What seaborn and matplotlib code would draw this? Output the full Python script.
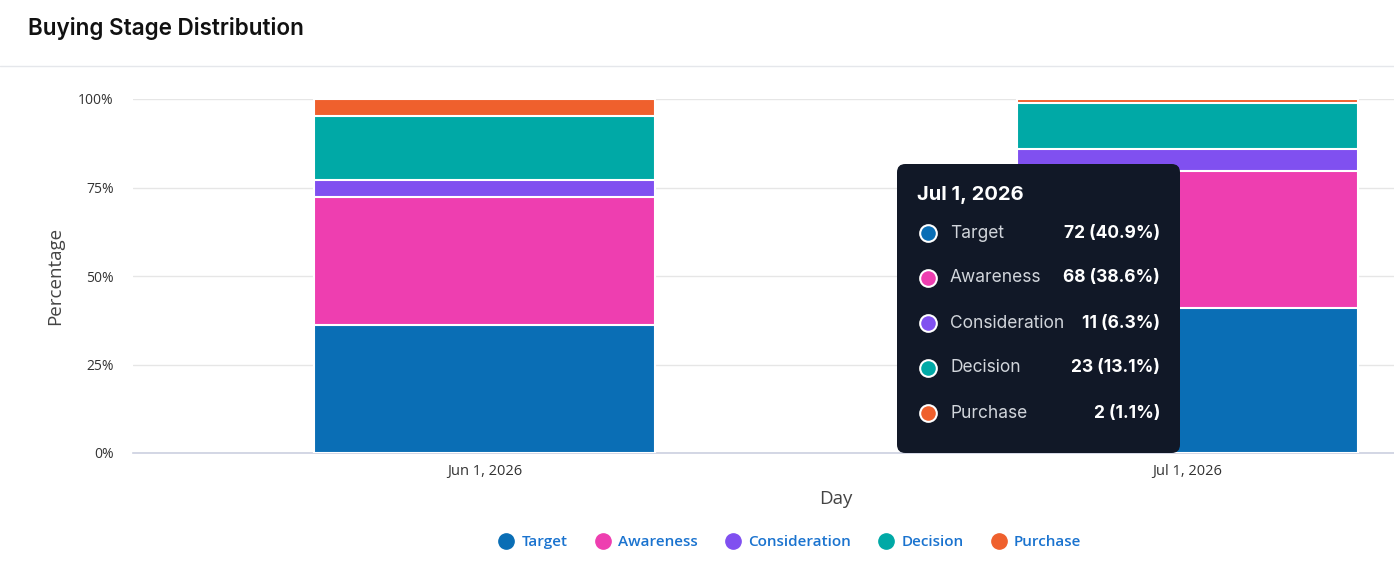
import matplotlib
matplotlib.use('Agg')
import math
import matplotlib.pyplot as plt
from matplotlib.patches import FancyBboxPatch
from matplotlib.lines import Line2D
import pandas as pd
import seaborn as sns

# %% Data
days = ['Jun 1, 2026', 'Jul 1, 2026']
stages = ['Target', 'Awareness', 'Consideration', 'Decision', 'Purchase']
target = [30, 72]
awareness = [30, 68]
consideration = [4, 11]
decision = [15, 23]
purchase = [4, 2]

colors = ['#0a6eb5', '#ee3eb0', '#8050f0', '#00a9a6', '#ef602d']

counts = pd.DataFrame({'Day': days, 'Target': target, 'Awareness': awareness,
                       'Consideration': consideration, 'Decision': decision,
                       'Purchase': purchase})
totals = counts[stages].sum(axis=1)
pct = counts[stages].div(totals, axis=0) * 100
cum = pct.cumsum(axis=1)
cum['Day'] = days

# %% Figure
sns.set_theme(style='white')
plt.rcParams['font.family'] = ['Open Sans', 'DejaVu Sans']

fig = plt.figure(figsize=(13.94, 5.74), dpi=100)
ax = fig.add_axes([133 / 1394, 1 - 453 / 574, 1406 / 1394, 354 / 574])

# draw cumulative stacks from the top stage down so they overlap
for stage, col in reversed(list(zip(stages, colors))):
    sns.barplot(data=cum, x='Day', y=stage, color=col, width=0.485,
                edgecolor='white', linewidth=1.5, saturation=1, ax=ax, zorder=3)

ax.set_xlim(-0.5, 1.5)
ax.set_ylim(0, 100)
ax.set_yticks([0, 25, 50, 75, 100])
ax.set_yticklabels([f'{t}%' for t in [0, 25, 50, 75, 100]])
ax.grid(axis='y', color='#e6e6e6', linewidth=1, zorder=0)
ax.set_axisbelow(True)
for s in ['top', 'right', 'left']:
    ax.spines[s].set_visible(False)
ax.spines['bottom'].set_color('#ccd0e0')
ax.spines['bottom'].set_linewidth(1.2)
ax.tick_params(axis='y', length=0, pad=14, labelsize=10, labelcolor='#333333')
ax.tick_params(axis='x', length=0, pad=8, labelsize=10.5, labelcolor='#333333')
ax.set_xlabel('Day', fontsize=13.5, color='#444444', labelpad=8)
ax.set_ylabel('Percentage', fontsize=13.5, color='#444444', labelpad=10)

# title and separator
fig.text(28 / 1394, 1 - 29 / 574, 'Buying Stage Distribution', fontsize=16.2,
         fontweight='semibold', family=['Inter', 'DejaVu Sans'], va='center',
         color='#111111')
fig.add_artist(Line2D([0, 1], [1 - 66 / 574] * 2, color='#e5e7eb', linewidth=1))

# legend
handles = [Line2D([], [], marker='o', linestyle='', markersize=11,
                  markerfacecolor=c, markeredgecolor=c) for c in colors]
leg = fig.legend(handles, stages, loc='center', ncol=5, frameon=False,
                 bbox_to_anchor=(790 / 1394, 1 - 542 / 574),
                 handlelength=1.0, handletextpad=0.5, columnspacing=1.8,
                 labelcolor='#1a73cf', prop={'weight': 'semibold', 'size': 11})

# tooltip for Jul 1
W, H = 1394, 574
def fx(px):
    return px / W
def fy(py):
    return 1 - py / H

def pct_label(p):
    # round half up like the chart does
    return f'{math.floor(p * 10 + 0.5) / 10:.1f}'

box = FancyBboxPatch((fx(897), fy(453)), fx(1180) - fx(897), fy(164) - fy(453),
                     boxstyle='round,pad=0,rounding_size=0.006',
                     transform=fig.transFigure, facecolor='#111827',
                     edgecolor='none', zorder=10, mutation_aspect=W / H)
fig.add_artist(box)
tfont = ['Inter', 'DejaVu Sans']
fig.text(fx(917), fy(195), days[1], color='white', fontsize=14.5,
         fontweight='bold', family=tfont, va='center', zorder=11)
j = 1
for k, (stage, col) in enumerate(zip(stages, colors)):
    yy = fy(233 + 45 * k)
    fig.add_artist(Line2D([fx(928)], [yy], marker='o', markersize=12,
                          markerfacecolor=col, markeredgecolor='white',
                          markeredgewidth=1.5, transform=fig.transFigure,
                          zorder=11))
    fig.text(fx(950), yy, stage, color='#d1d5db', fontsize=12.5, family=tfont,
             va='center', zorder=11)
    val = counts.loc[j, stage]
    fig.text(fx(1160), yy, f'{val} ({pct_label(pct.loc[j, stage])}%)',
             color='white', fontsize=12.5, fontweight='bold', family=tfont,
             va='center', ha='right', zorder=11)

fig.savefig('out.png', dpi=100)
